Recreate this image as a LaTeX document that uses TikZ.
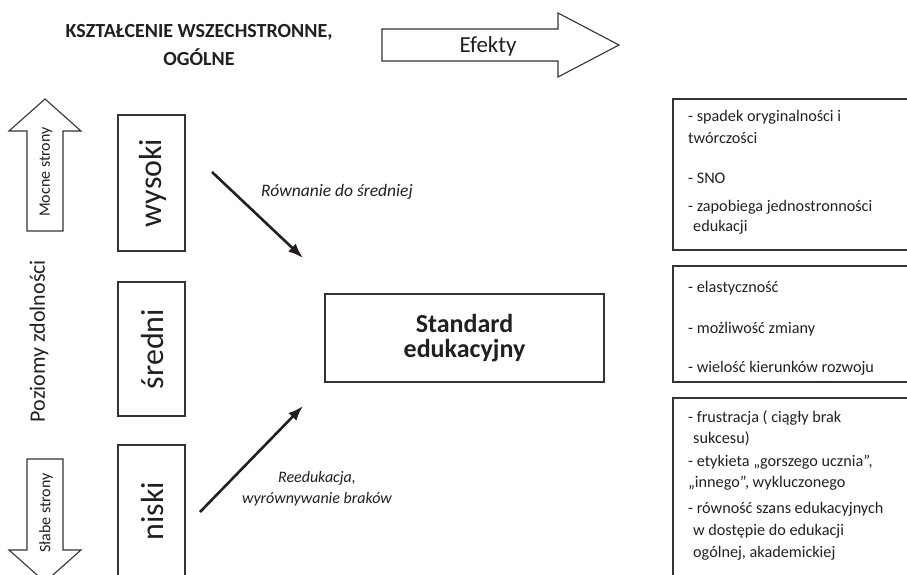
\documentclass[tikz,border=0pt]{standalone}
\usepackage{fontspec}
\setmainfont{Carlito}
\usetikzlibrary{arrows.meta}
\definecolor{ink}{HTML}{231F20}
\definecolor{frame}{HTML}{333333}
\tikzset{
  boxline/.style={draw=frame, line width=1.1pt},
  bigarrow/.style={draw=frame, line width=1.1pt, fill=white},
  leveltext/.style={text=ink, rotate=90, font=\fontsize{32}{36}\selectfont},
  connector/.style={draw=ink, line width=2.6pt, -{Latex[length=15pt,width=11pt]}},
  itemtext/.style={text=ink, anchor=west, inner sep=0pt, text height=0.75em, text depth=0.25em,
                   font=\fontsize{16.2}{19}\selectfont},
  flowlabel/.style={text=ink, align=center}
}
\begin{document}
\begin{tikzpicture}[x=1pt, y=-1pt]
\useasboundingbox (0,0) rectangle (907,574);
\clip (0,0) rectangle (907,574);

% heading
\node[text=ink, font=\bfseries\fontsize{20}{28}\selectfont, align=center] (title) at (199,45)
  {KSZTAŁCENIE WSZECHSTRONNE,\\OGÓLNE};

% block arrow "Efekty"
\draw[bigarrow] (382,29) -- (558,29) -- (558,13) -- (619,45) -- (558,77) -- (558,61) -- (382,61) -- cycle;
\node[text=ink, font=\fontsize{23}{24}\selectfont] (efekty) at (488,46) {Efekty};

% block arrow up: strong sides
\draw[bigarrow] (27,231) -- (27,131) -- (9,131) -- (45,99) -- (81,131) -- (63,131) -- (63,231) -- cycle;
\node[text=ink, rotate=90, font=\fontsize{16}{18}\selectfont] (mocne) at (46,172) {Mocne strony};

% block arrow down: weak sides
\draw[bigarrow] (27,459) -- (63,459) -- (63,550) -- (81,550) -- (45,582) -- (9,550) -- (27,550) -- cycle;
\node[text=ink, rotate=90, font=\fontsize{16}{18}\selectfont] (slabe) at (46,513) {Słabe strony};

% axis caption
\node[text=ink, rotate=90, font=\fontsize{22}{24}\selectfont] (poziomy) at (39,341) {Poziomy zdolności};

% ability levels
\draw[boxline] (118,115) rectangle (185,251);
\node[leveltext] (wysoki) at (153,183) {wysoki};
\draw[boxline] (118,282) rectangle (185,416);
\node[leveltext] (sredni) at (153,349) {średni};
\draw[boxline] (118,445) rectangle (185,600);
\node[leveltext] (niski) at (153,511) {niski};

% central box
\node[boxline, minimum width=279pt, minimum height=88pt, inner sep=0pt,
      text=ink, font=\bfseries\fontsize{26}{25}\selectfont, align=center] (standard) at (464.5,338)
  {Standard\\edukacyjny};

% flows towards the standard
\coordinate (fromHigh) at (212,172);
\coordinate (toStdHigh) at (303,258);
\coordinate (fromLow) at (200,512);
\coordinate (toStdLow) at (303,406);
\draw[connector] (fromHigh) -- (toStdHigh);
\draw[connector] (fromLow) -- (toStdLow);
\node[flowlabel, font=\itshape\fontsize{17.5}{22}\selectfont] (rownanie) at (337,192) {Równanie do średniej};
\node[flowlabel, font=\itshape\fontsize{16}{21}\selectfont] (reedukacja) at (317,489) {Reedukacja,\\wyrównywanie braków};

% effect boxes
\draw[boxline] (673,99) rectangle (920,250);
\node[itemtext] (e1a) at (688,119) {- spadek oryginalności i};
\node[itemtext] (e1b) at (688,141) {twórczości};
\node[itemtext] (e1c) at (688,181) {- SNO};
\node[itemtext] (e1d) at (688,209) {- zapobiega jednostronności};
\node[itemtext] (e1e) at (693,229) {edukacji};

\draw[boxline] (673,266) rectangle (920,382);
\node[itemtext] (e2a) at (688,290) {- elastyczność};
\node[itemtext] (e2b) at (688,331) {- możliwość zmiany};
\node[itemtext] (e2c) at (688,370) {- wielość kierunków rozwoju};

\draw[boxline] (673,398) rectangle (920,600);
\node[itemtext] (e3a) at (688,420) {- frustracja ( ciągły brak};
\node[itemtext] (e3b) at (693,441) {sukcesu)};
\node[itemtext] (e3c) at (688,464) {- etykieta „gorszego ucznia”,};
\node[itemtext] (e3d) at (688,485) {„innego”, wykluczonego};
\node[itemtext] (e3e) at (688,511) {- równość szans edukacyjnych};
\node[itemtext] (e3f) at (693,533) {w dostępie do edukacji};
\node[itemtext] (e3g) at (693,555) {ogólnej, akademickiej};
\end{tikzpicture}
\end{document}
